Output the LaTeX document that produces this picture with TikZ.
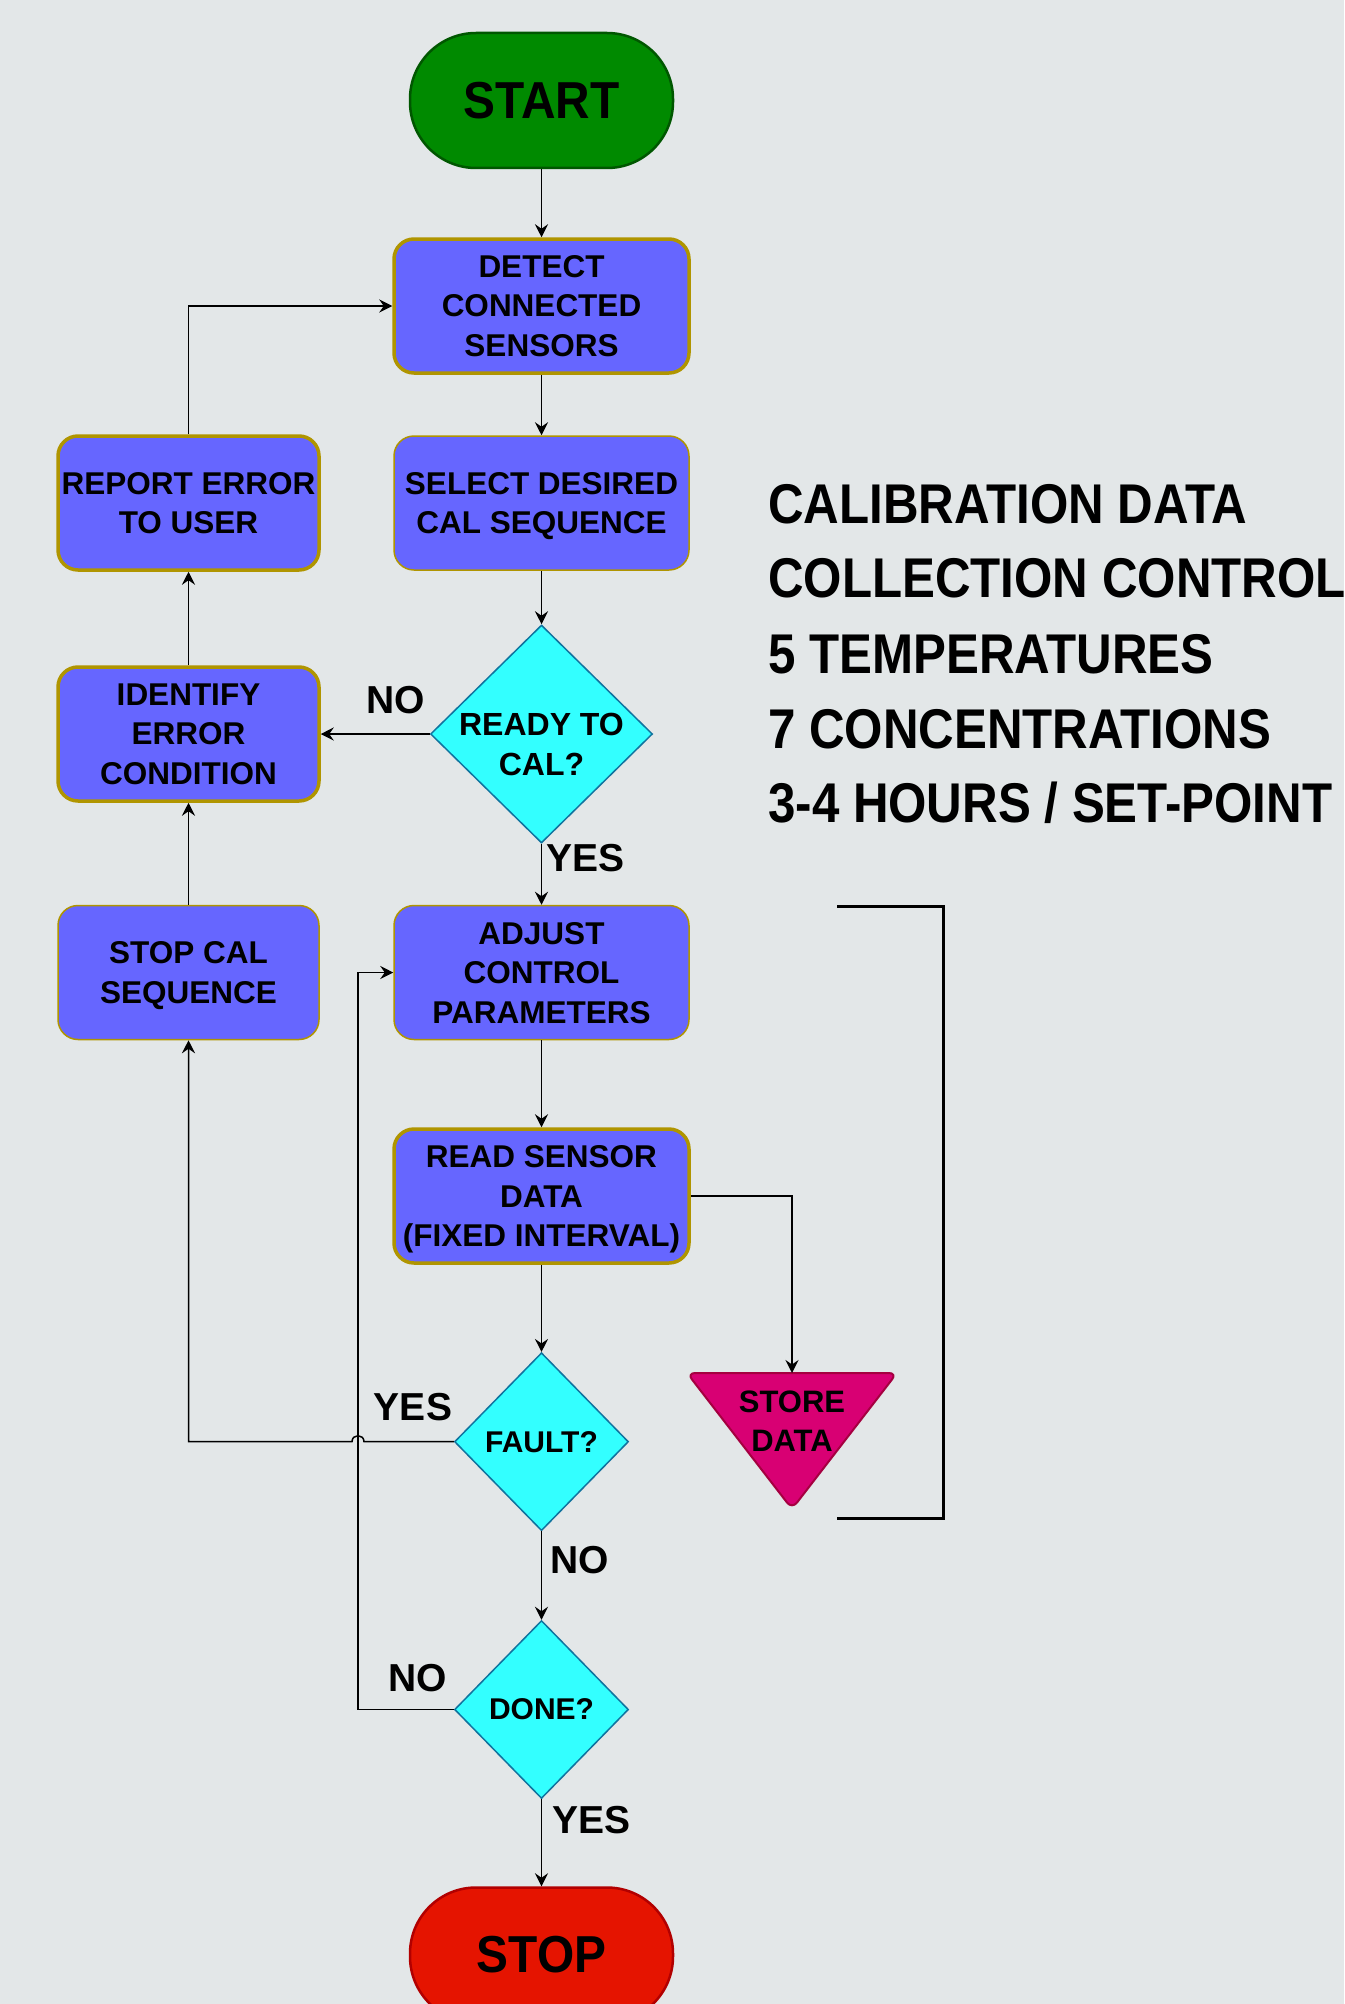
\documentclass[tikz,border=0pt]{standalone}
\usepackage{fontspec}
\setmainfont{Liberation Sans}
\newfontfamily\condfont[FakeStretch=0.88]{Liberation Sans}
\newfontfamily\semicond[FakeStretch=0.92]{Liberation Sans}
\usetikzlibrary{arrows.meta,shapes.geometric}
\definecolor{bgc}{HTML}{E3E7E8}
\definecolor{startfill}{HTML}{008A00}
\definecolor{startline}{HTML}{005700}
\definecolor{stopfill}{HTML}{E51400}
\definecolor{stopline}{HTML}{B20000}
\definecolor{boxfill}{HTML}{6666FF}
\definecolor{boxline}{HTML}{B09500}
\definecolor{diafill}{HTML}{33FFFF}
\definecolor{dialine}{HTML}{10739E}
\definecolor{storefill}{HTML}{D80073}
\definecolor{storeline}{HTML}{A50040}
\tikzset{
  term/.style={rectangle, rounded corners=66pt, minimum width=263pt, minimum height=135pt,
    line width=2.5pt, inner sep=0pt, font=\semicond\bfseries\fontsize{52}{60}\selectfont},
  procbox/.style={rectangle, rounded corners=20pt, fill=boxfill, draw=boxline,
    minimum height=134pt, inner sep=0pt, align=center, text depth=0pt,
    font=\bfseries\fontsize{31.5}{39.5}\selectfont},
  wideb/.style={procbox, minimum width=295pt},
  narrowb/.style={procbox, minimum width=261pt},
  thickb/.style={line width=3.5pt},
  thinb/.style={line width=1.5pt},
  decision/.style={diamond, fill=diafill, draw=dialine, line width=1.5pt, inner sep=0pt},
  dtext/.style={align=center, font=\bfseries\fontsize{31}{39}\selectfont},
  lbl/.style={inner sep=0pt, font=\bfseries\fontsize{39}{45}\selectfont},
  conn/.style={line width=1.5pt, -{Stealth[length=13pt,width=13pt,inset=4.5pt]}},
  sidetext/.style={anchor=base west, inner sep=0pt, font=\condfont\bfseries\fontsize{56}{60}\selectfont}
}
\begin{document}
\begin{tikzpicture}[x=1pt,y=-1pt]
\useasboundingbox (0,0) rectangle (1344,2004);
\fill[bgc] (0,0) rectangle (1344,2004);
\clip (0,0) rectangle (1344,2004);

% terminals
\node[term, fill=startfill, draw=startline] (start) at (541.5,100.5) {START};
\node[term, fill=stopfill, draw=stopline] (stop) at (541.5,1955) {STOP};

% process boxes
\node[wideb, thickb] (detect) at (541.5,306) {DETECT\\CONNECTED\\SENSORS};
\node[wideb, thinb] (select) at (541.5,503) {SELECT DESIRED\\CAL SEQUENCE};
\node[wideb, thinb] (adjust) at (541.5,972.5) {ADJUST\\CONTROL\\PARAMETERS};
\node[wideb, thickb] (read) at (541.5,1196) {READ SENSOR\\DATA\\(FIXED INTERVAL)};
\node[narrowb, thickb] (report) at (188.5,503) {REPORT ERROR\\TO USER};
\node[narrowb, thickb] (identify) at (188.5,734) {IDENTIFY\\ERROR\\CONDITION};
\node[narrowb, thinb] (stopcal) at (188.5,972.5) {STOP CAL\\SEQUENCE};

% decisions
\node[decision, minimum width=222pt, minimum height=218pt,
  label={[dtext, yshift=-10pt, font=\bfseries\fontsize{32}{40}\selectfont]center:READY TO\\CAL?}] (ready) at (541.5,734) {};
\node[decision, minimum width=174pt, minimum height=178pt,
  label={[dtext, font=\bfseries\fontsize{30}{38}\selectfont]center:FAULT?}] (fault) at (541.5,1441.7) {};
\node[decision, minimum width=174pt, minimum height=178pt,
  label={[dtext, font=\bfseries\fontsize{30}{38}\selectfont]center:DONE?}] (done) at (541.5,1709.5) {};

% store data (inverted triangle)
\draw[fill=storefill, draw=storeline, line width=2pt, rounded corners=8pt]
  (687,1373) -- (897,1373) -- (792,1509) -- cycle;
\coordinate (storetop) at (792,1373);
\node[align=center, inner sep=0pt, text depth=0pt, font=\bfseries\fontsize{31}{39}\selectfont] (store) at (792,1421) {STORE\\DATA};

% bracket
\draw[line width=3pt, line join=miter] (837,906) -- (943,906) -- (943,1518) -- (837,1518);

% side text
\node[sidetext] (t1) at (768,523) {CALIBRATION DATA};
\node[sidetext] (t2) at (768,597) {COLLECTION CONTROL};
\node[sidetext] (t3) at (768,673) {5 TEMPERATURES};
\node[sidetext] (t4) at (768,748) {7 CONCENTRATIONS};
\node[sidetext] (t5) at (768,822) {3-4 HOURS / SET-POINT};

% connectors
\draw[conn] (start) -- (detect);
\draw[conn] (detect) -- (select);
\draw[conn] (select) -- (ready);
\draw[conn] (ready.west) -- (identify.east);
\draw[conn] (ready.south) -- (adjust.north);
\draw[conn] (identify) -- (report);
\draw[conn] (report.north) |- (detect.west);
\draw[conn] (adjust) -- (read);
\draw[conn] (read.east) -| (storetop);
\draw[conn] (read) -- (fault);
\coordinate (hop) at (358,1441.7);
\draw[conn] (fault.west) -- ([xshift=6pt]hop)
  .. controls ([shift={(6,-8)}]hop) and ([shift={(-6,-8)}]hop) .. ([xshift=-6pt]hop)
  -| (stopcal.south);
\draw[conn] (stopcal) -- (identify);
\draw[conn] (fault) -- (done);
\coordinate (loop) at (358,1709.5);
\draw[conn] (done.west) -- (loop) |- (adjust.west);
\draw[conn] (done) -- (stop);

% connector labels
\node[lbl] (noready) at (396,700) {NO};
\node[lbl] (yesready) at (585.5,858) {YES};
\node[lbl] (yesfault) at (413,1406.7) {YES};
\node[lbl] (nofault) at (580,1560) {NO};
\node[lbl] (nodone) at (417.5,1678.3) {NO};
\node[lbl] (yesdone) at (591.5,1820) {YES};
\end{tikzpicture}
\end{document}
